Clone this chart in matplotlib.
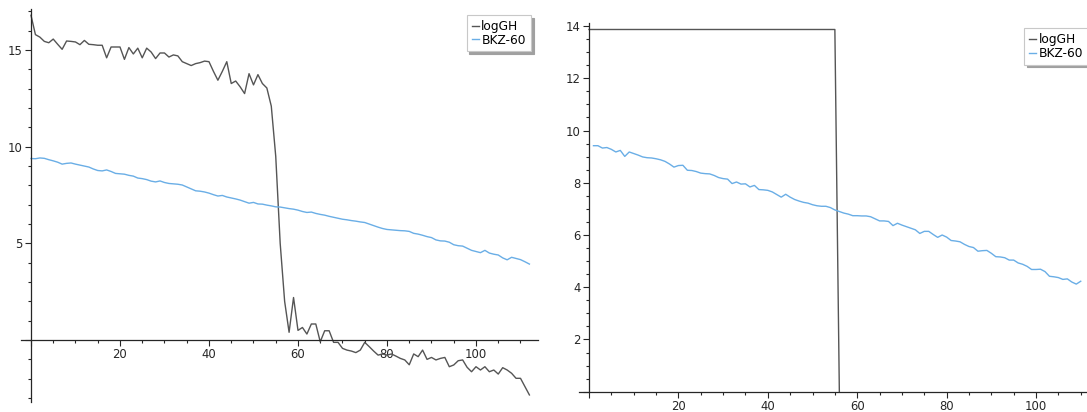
"""Profil logGH contre BKZ-60 : deux bases, côte à côte."""

import matplotlib.pyplot as plt
import numpy as np
from matplotlib.ticker import MultipleLocator

# Base de gauche : indices 0..112
gauche_gh = [
    16.80, 15.80, 15.67, 15.45, 15.38, 15.57, 15.30, 15.04, 15.47, 15.45,
    15.42, 15.28, 15.50, 15.30, 15.28, 15.25, 15.25, 14.60, 15.16, 15.16,
    15.16, 14.52, 15.13, 14.80, 15.10, 14.60, 15.10, 14.90, 14.56, 14.85,
    14.85, 14.64, 14.75, 14.70, 14.40, 14.30, 14.20, 14.30, 14.35, 14.43,
    14.40, 13.90, 13.44, 13.90, 14.40, 13.27, 13.40, 13.10, 12.75, 13.78,
    13.20, 13.73, 13.27, 13.04, 12.10, 9.50, 5.00, 2.00, 0.40, 2.20,
    0.50, 0.65, 0.31, 0.83, 0.83, -0.09, 0.48, 0.48, -0.12, -0.12,
    -0.43, -0.52, -0.57, -0.65, -0.52, -0.12, -0.34, -0.57, -0.78, -0.72,
    -0.78, -0.72, -0.83, -0.95, -1.03, -1.28, -0.72, -0.86, -0.52, -1.00,
    -0.90, -1.03, -0.95, -0.90, -1.38, -1.29, -1.07, -1.03, -1.41, -1.64,
    -1.38, -1.55, -1.38, -1.64, -1.55, -1.76, -1.43, -1.55, -1.72, -1.98,
    -1.98, -2.41, -2.84,
]
gauche_bkz = [
    9.39, 9.38, 9.42, 9.40, 9.33, 9.27, 9.20, 9.10, 9.14, 9.16,
    9.10, 9.05, 9.00, 8.95, 8.85, 8.77, 8.75, 8.80, 8.72, 8.62,
    8.60, 8.58, 8.52, 8.48, 8.38, 8.35, 8.30, 8.22, 8.18, 8.23,
    8.15, 8.10, 8.08, 8.06, 8.02, 7.92, 7.82, 7.72, 7.70, 7.66,
    7.60, 7.52, 7.45, 7.48, 7.40, 7.35, 7.30, 7.24, 7.16, 7.08,
    7.12, 7.04, 7.03, 6.98, 6.94, 6.89, 6.88, 6.84, 6.80, 6.77,
    6.72, 6.65, 6.60, 6.62, 6.55, 6.50, 6.46, 6.40, 6.35, 6.30,
    6.25, 6.22, 6.18, 6.15, 6.11, 6.08, 6.00, 5.92, 5.84, 5.77,
    5.72, 5.70, 5.68, 5.66, 5.65, 5.62, 5.52, 5.48, 5.42, 5.35,
    5.30, 5.18, 5.13, 5.12, 5.06, 4.93, 4.88, 4.86, 4.75, 4.64,
    4.58, 4.52, 4.64, 4.50, 4.44, 4.40, 4.25, 4.15, 4.28, 4.22,
    4.16, 4.05, 3.93,
]

# Base de droite : logGH constant jusqu'à 55 puis chute, BKZ-60 sur 1..110
droite_gh_x = [0, 55, 56]
droite_gh = [13.87, 13.87, 0.0]
droite_bkz = [
    9.42, 9.42, 9.33, 9.35, 9.28, 9.18, 9.24, 9.01, 9.18, 9.12,
    9.06, 8.99, 8.96, 8.95, 8.92, 8.88, 8.82, 8.72, 8.60, 8.66,
    8.67, 8.48, 8.47, 8.43, 8.37, 8.35, 8.34, 8.28, 8.20, 8.16,
    8.14, 7.97, 8.03, 7.95, 7.96, 7.84, 7.90, 7.74, 7.73, 7.71,
    7.65, 7.55, 7.45, 7.56, 7.45, 7.36, 7.30, 7.25, 7.22, 7.16,
    7.12, 7.10, 7.10, 7.05, 6.96, 6.90, 6.84, 6.80, 6.74, 6.74,
    6.73, 6.73, 6.70, 6.62, 6.54, 6.54, 6.52, 6.36, 6.45, 6.38,
    6.32, 6.26, 6.20, 6.06, 6.14, 6.14, 6.02, 5.91, 6.00, 5.92,
    5.79, 5.77, 5.74, 5.64, 5.56, 5.52, 5.38, 5.40, 5.41, 5.30,
    5.17, 5.16, 5.13, 5.04, 5.04, 4.93, 4.88, 4.80, 4.68, 4.68,
    4.69, 4.60, 4.42, 4.40, 4.37, 4.30, 4.32, 4.20, 4.12, 4.23,
]

COULEUR_GH = "#555555"
COULEUR_BKZ = "#6aaee6"
COULEUR_AXE = "#262626"
W, H = 1087, 412


def styliser_axes(ax, pas_y, pas_y_mineur):
    """Axes croisés à l'origine, à la manière de Sage."""
    for cote in ("top", "right"):
        ax.spines[cote].set_visible(False)
    for cote in ("left", "bottom"):
        ax.spines[cote].set_position(("data", 0))
        ax.spines[cote].set_color(COULEUR_AXE)
        ax.spines[cote].set_linewidth(0.9)
    ax.xaxis.set_major_locator(MultipleLocator(20))
    ax.xaxis.set_minor_locator(MultipleLocator(5))
    ax.yaxis.set_major_locator(MultipleLocator(pas_y))
    ax.yaxis.set_minor_locator(MultipleLocator(pas_y_mineur))
    ax.tick_params(which="both", direction="out", colors=COULEUR_AXE,
                   labelsize=8.4, width=0.8)
    ax.tick_params(which="major", length=4, pad=2)
    ax.tick_params(which="minor", length=2.5)
    # pas d'étiquette à l'origine ni pour les valeurs négatives
    ax.xaxis.set_major_formatter(lambda v, _: "" if v <= 0 else f"{v:g}")
    ax.yaxis.set_major_formatter(lambda v, _: "" if v <= 0 else f"{v:g}")
    ax.set_facecolor("none")


def legende(ax, x_px, y_px):
    leg = ax.legend(
        loc="upper left", bbox_to_anchor=(x_px / W, 1 - y_px / H),
        bbox_transform=fig.transFigure, fontsize=8.8, frameon=True,
        fancybox=False, shadow={"color": "#a0a0a0", "alpha": 1.0},
        handlelength=0.6, handletextpad=0.2, borderpad=0.4,
        labelspacing=0.05, borderaxespad=0,
    )
    leg.get_frame().set_edgecolor("#c8c8c8")
    leg.get_frame().set_linewidth(0.8)
    return leg


fig = plt.figure(figsize=(W / 100, H / 100), dpi=100)

# --- graphique de gauche ---
ax1 = fig.add_axes([20.7 / W, (H - 401.7) / H, (538.3 - 20.7) / W, (401.7 - 9.3) / H])
x_g = np.arange(len(gauche_gh))
ax1.plot(x_g, gauche_gh, color=COULEUR_GH, lw=1.0, label="logGH")
ax1.plot(x_g, gauche_bkz, color=COULEUR_BKZ, lw=1.0, label="BKZ-60")
ax1.set_xlim(-2.31, 114.0)
ax1.set_ylim(-3.19, 17.11)
styliser_axes(ax1, 5, 1)
legende(ax1, 466.7, 15)

# --- graphique de droite ---
ax2 = fig.add_axes([579.3 / W, (H - 391.7) / H, (W - 579.3) / W, (391.7 - 22.7) / H])
x_d = np.arange(1, len(droite_bkz) + 1)
ax2.plot(droite_gh_x, droite_gh, color=COULEUR_GH, lw=1.0, label="logGH")
ax2.plot(x_d, droite_bkz, color=COULEUR_BKZ, lw=1.0, label="BKZ-60")
ax2.set_xlim(-2.17, 111.4)
ax2.set_ylim(0, 14.13)
styliser_axes(ax2, 2, 0.5)
legende(ax2, 1024, 28.3)

fig.savefig("out.png", dpi=100)
